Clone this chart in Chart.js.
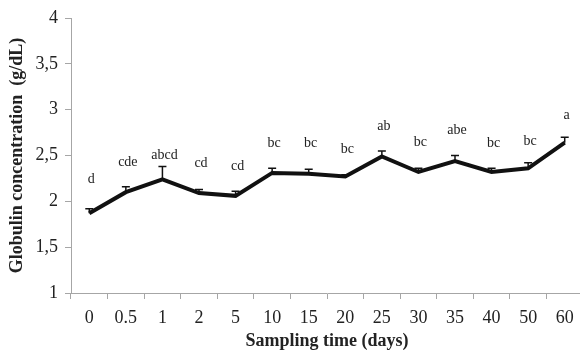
<!DOCTYPE html>
<html>
<head>
<meta charset="utf-8">
<script src="https://cdn.jsdelivr.net/npm/chart.js@4.4.1/dist/chart.umd.min.js"></script>
<style>
html,body{margin:0;padding:0;background:#fff;overflow:hidden;}
#wrap{width:583px;height:352px;}
</style>
</head>
<body>
<div id="wrap"><canvas id="c" width="583" height="352"></canvas></div>
<script>
const categories = ['0','0.5','1','2','5','10','15','20','25','30','35','40','50','60'];
const globulin = [1.87, 2.10, 2.24, 2.09, 2.06, 2.31, 2.30, 2.27, 2.49, 2.32, 2.44, 2.32, 2.36, 2.64];
const errorUp  = [0.05, 0.06, 0.14, 0.04, 0.05, 0.05, 0.05, 0.02, 0.06, 0.04, 0.06, 0.04, 0.06, 0.06];
const letters  = ['d','cde','abcd','cd','cd','bc','bc','bc','ab','bc','abe','bc','bc','a'];
const letterAt = [2.24, 2.43, 2.50, 2.41, 2.38, 2.63, 2.63, 2.57, 2.82, 2.64, 2.78, 2.63, 2.65, 2.94];
const yTicks = [1, 1.5, 2, 2.5, 3, 3.5, 4];

const serif = '"Liberation Serif", "Times New Roman", serif';

const annot = {
  id: 'annot',
  afterDatasetsDraw(chart) {
    const ctx = chart.ctx, x = chart.scales.x, y = chart.scales.y;
    ctx.save();
    ctx.strokeStyle = '#111';
    ctx.lineWidth = 1.5;
    globulin.forEach((v, i) => {
      const px = x.getPixelForValue(i);
      const y0 = y.getPixelForValue(v), y1 = y.getPixelForValue(v + errorUp[i]);
      ctx.beginPath();
      ctx.moveTo(px, y0); ctx.lineTo(px, y1);
      ctx.moveTo(px - 4, y1); ctx.lineTo(px + 4, y1);
      ctx.stroke();
    });
    ctx.fillStyle = '#222';
    ctx.font = '14px ' + serif;
    ctx.textAlign = 'center';
    ctx.textBaseline = 'middle';
    letters.forEach((t, i) => {
      ctx.fillText(t, x.getPixelForValue(i) + 2, y.getPixelForValue(letterAt[i]));
    });
    ctx.restore();
  }
};

new Chart(document.getElementById('c'), {
  type: 'line',
  data: {
    labels: categories,
    datasets: [{
      data: globulin,
      borderColor: '#111',
      borderWidth: 4,
      pointRadius: 0,
      tension: 0,
      fill: false
    }]
  },
  options: {
    responsive: false,
    animation: false,
    layout: { padding: { top: 18, right: 0, left: 0, bottom: 0 } },
    plugins: { legend: { display: false }, tooltip: { enabled: false } },
    scales: {
      x: {
        offset: true,
        grid: { offset: true, drawOnChartArea: false, drawTicks: true, tickLength: 6, color: '#a6a6a6' },
        border: { color: '#a6a6a6', width: 1 },
        ticks: { color: '#222', font: { family: serif, size: 18 }, padding: 8, autoSkip: false, maxRotation: 0 },
        title: { display: true, text: 'Sampling time (days)', color: '#222', font: { family: serif, size: 18, weight: 'bold' }, padding: { top: 0, bottom: 0 } },
        afterFit(s) { s.height = 59; }
      },
      y: {
        min: 1, max: 4,
        afterBuildTicks(s) { s.ticks = yTicks.map(v => ({ value: v })); },
        grid: { drawOnChartArea: false, drawTicks: true, tickLength: 6, color: '#a6a6a6' },
        border: { color: '#a6a6a6', width: 1 },
        ticks: { color: '#222', font: { family: serif, size: 18 }, padding: 7,
                 callback: v => String(v).replace('.', ',') },
        title: { display: true, text: 'Globulin concentration  (g/dL)', color: '#222', font: { family: serif, size: 18, weight: 'bold' }, padding: { top: 7, bottom: 0 } },
        afterFit(s) { s.width = 71; }
      }
    }
  },
  plugins: [annot]
});
</script>
</body>
</html>
